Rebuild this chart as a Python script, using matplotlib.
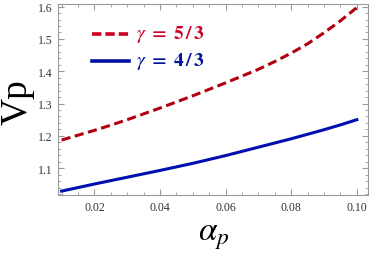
import numpy as np
import matplotlib.pyplot as plt
from matplotlib.ticker import MultipleLocator

plt.rcParams['mathtext.fontset'] = 'stix'

alpha_p = [0.010, 0.015, 0.020, 0.025, 0.030, 0.035, 0.040, 0.045, 0.050, 0.055,
           0.060, 0.065, 0.070, 0.075, 0.080, 0.085, 0.090, 0.095, 0.100]
vp_53 = [1.187, 1.202, 1.217, 1.233, 1.250, 1.268, 1.286, 1.305, 1.324, 1.344,
         1.364, 1.385, 1.406, 1.430, 1.456, 1.485, 1.519, 1.556, 1.597]
vp_43 = [1.029, 1.040, 1.051, 1.0615, 1.072, 1.0825, 1.093, 1.104, 1.115, 1.127,
         1.139, 1.152, 1.165, 1.178, 1.191, 1.205, 1.219, 1.234, 1.250]

xticks = [0.02, 0.04, 0.06, 0.08, 0.10]
yticks = [1.1, 1.2, 1.3, 1.4, 1.5, 1.6]

red = '#B00010'
blue = '#0010B0'

fig = plt.figure(figsize=(3.71, 2.55), dpi=100)
ax = fig.add_axes([58/371, 59/255, 310/371, 191/255])

ax.plot(alpha_p, vp_53, '--', color=red, lw=2.2, dashes=(3, 1.5))
ax.plot(alpha_p, vp_43, '-', color=blue, lw=2.2)

ax.set_xlim(0.0089, 0.1034)
ax.set_ylim(1.017, 1.608)
ax.xaxis.set_minor_locator(MultipleLocator(0.005))
ax.yaxis.set_minor_locator(MultipleLocator(0.02))
ax.set_xticks(xticks)
ax.set_xticklabels(['%.2f' % v for v in xticks])
ax.set_yticks(yticks)
ax.set_yticklabels(['%.1f' % v for v in yticks])

for sp in ax.spines.values():
    sp.set_color('#999999')
    sp.set_linewidth(0.8)
ax.tick_params(which='both', direction='in', top=True, right=True, color='#999999',
               labelcolor='#333333', pad=4)
ax.tick_params(which='major', length=4)
ax.tick_params(which='minor', length=2)
for lbl in ax.get_xticklabels() + ax.get_yticklabels():
    lbl.set_fontfamily('Liberation Serif')
    lbl.set_fontsize(8.5)

fig.text(0.046, 0.6, 'Vp', rotation=90, fontsize=27, family='Liberation Serif',
         ha='center', va='center')
fig.text(0.575, 0.075, r'$\alpha_p$', fontsize=24, ha='center', va='center')

# legend drawn by hand, upper left inside the frame
fig.lines.append(plt.Line2D([92/371, 129/371], [220/255, 220/255], transform=fig.transFigure,
                            color='#CC0020', lw=2.6, ls=(0, (2.6, 1.1))))
fig.lines.append(plt.Line2D([92/371, 129/371], [193/255, 193/255], transform=fig.transFigure,
                            color='#0010A0', lw=2.6))
fig.text(136/371, 220/255, r'$\gamma\ \mathbf{=\ 5\,/\,3}$', color='#CC0020', fontsize=14,
         va='center')
fig.text(136/371, 193/255, r'$\gamma\ \mathbf{=\ 4\,/\,3}$', color='#0010A0', fontsize=14,
         va='center')

fig.savefig('out.png', dpi=100)
